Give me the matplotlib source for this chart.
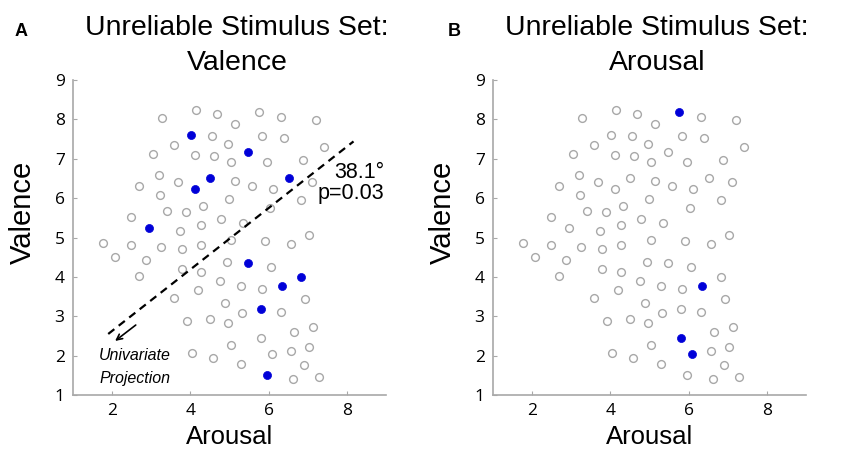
import numpy as np
import matplotlib
matplotlib.use("Agg")
import matplotlib.pyplot as plt

# stimulus positions (arousal, valence), same set in both panels
arousal = [3.28, 4.14, 4.69, 5.14, 5.76, 6.32, 7.21, 4.02, 4.56, 4.96,
           5.83, 6.40, 3.59, 3.05, 4.13, 4.60, 5.04, 5.48, 5.95, 6.87,
           7.41, 3.19, 3.69, 4.50, 5.14, 5.58, 6.53, 7.12, 2.68, 4.13,
           6.11, 3.22, 4.98, 6.84, 4.33, 3.39, 3.88, 6.04, 2.48, 4.79,
           5.35, 4.28, 2.94, 3.73, 7.02, 1.77, 2.48, 3.26, 3.79, 4.26,
           5.05, 5.90, 6.57, 2.08, 2.87, 4.93, 5.48, 6.07, 2.68, 3.79,
           4.27, 6.84, 4.76, 5.29, 6.33, 5.82, 4.19, 3.57, 6.92, 4.88,
           5.81, 5.33, 6.31, 3.91, 4.51, 4.96, 7.14, 6.66, 5.80, 5.05,
           7.03, 4.05, 4.58, 6.08, 6.57, 5.29, 6.90, 5.95, 6.62, 7.30]
valence = [8.03, 8.25, 8.14, 7.88, 8.19, 8.07, 7.98, 7.60, 7.58, 7.38,
           7.58, 7.52, 7.36, 7.12, 7.09, 7.06, 6.92, 7.18, 6.92, 6.98,
           7.31, 6.58, 6.42, 6.50, 6.44, 6.30, 6.52, 6.42, 6.30, 6.22,
           6.24, 6.09, 5.98, 5.96, 5.79, 5.67, 5.66, 5.74, 5.51, 5.48,
           5.37, 5.33, 5.23, 5.17, 5.06, 4.86, 4.81, 4.77, 4.72, 4.80,
           4.94, 4.90, 4.84, 4.51, 4.44, 4.38, 4.35, 4.24, 4.02, 4.19,
           4.12, 3.99, 3.90, 3.76, 3.78, 3.69, 3.66, 3.46, 3.45, 3.34,
           3.19, 3.07, 3.10, 2.87, 2.93, 2.82, 2.72, 2.59, 2.46, 2.27,
           2.21, 2.06, 1.95, 2.03, 2.11, 1.79, 1.77, 1.52, 1.41, 1.46]

# indices of the unreliable stimuli in each panel
unreliable_valence = [7, 17, 23, 26, 29, 42, 56, 61, 64, 70, 87]
unreliable_arousal = [4, 64, 78, 83]

# projection line and arrow (data coords)
proj_x = [1.90, 8.17]
proj_y = [2.55, 7.44]
arrow_start = (2.66, 2.82)
arrow_end = (2.02, 2.33)

panel_letters = ["A", "B"]
panel_titles = ["Unreliable Stimulus Set:\nValence", "Unreliable Stimulus Set:\nArousal"]
panel_filled = [unreliable_valence, unreliable_arousal]

plt.rcParams["font.family"] = ["Liberation Sans", "DejaVu Sans"]

fig = plt.figure(figsize=(8.5, 4.62), dpi=100)

gray = "#a8a8a8"
blue = "#0000d8"
ax_left = [73 / 850, 493 / 850]

x = np.array(arousal)
y = np.array(valence)

for i in range(2):
    ax = fig.add_axes([ax_left[i], 1 - 395 / 462, 313 / 850, 315 / 462])
    filled = np.zeros(len(x), bool)
    filled[panel_filled[i]] = True
    ax.plot(x[~filled], y[~filled], "o", ms=5.6, mfc="none", mec=gray, mew=1.0)
    ax.plot(x[filled], y[filled], "o", ms=5.8, mfc=blue, mec=blue, mew=0.5)
    ax.set_xlim(1, 9)
    ax.set_ylim(1, 9)
    ax.set_xticks([2, 4, 6, 8])
    ax.set_yticks(range(1, 10))
    for s in ["top", "right"]:
        ax.spines[s].set_visible(False)
    for s in ["left", "bottom"]:
        ax.spines[s].set_color(gray)
        ax.spines[s].set_linewidth(1.2)
    ax.tick_params(direction="in", length=3, color=gray, labelsize=12.5, pad=6)
    for lab in ax.get_xticklabels() + ax.get_yticklabels():
        lab.set_fontfamily(["Open Sans", "DejaVu Sans"])

    cx = ax_left[i] + 164 / 850
    fig.text(cx, 1 - 28 / 462, panel_titles[i].split("\n")[0], ha="center",
             va="center", fontsize=20.5)
    fig.text(cx, 1 - 63 / 462, panel_titles[i].split("\n")[1], ha="center",
             va="center", fontsize=20.5)
    fig.text((21 + 433 * i) / 850, 1 - 31 / 462, panel_letters[i], ha="center",
             va="center", fontsize=13, fontweight="bold")
    fig.text((23 + 420 * i) / 850, 1 - 212 / 462, "Valence", rotation=90,
             ha="center", va="center", fontsize=21)
    fig.text((230 + 420 * i) / 850, 1 - 437 / 462, "Arousal", ha="center",
             va="center", fontsize=18.5)

    if i == 0:
        ax.plot(proj_x, proj_y, color="black", lw=1.6, dashes=[3.5, 2.5])
        ax.annotate("", xy=arrow_end, xytext=arrow_start,
                    arrowprops=dict(arrowstyle="->", color="black", lw=1.2))
        ax.text(8.96, 6.65, "38.1°", ha="right", va="center", fontsize=15.5)
        ax.text(8.96, 6.12, "p=0.03", ha="right", va="center", fontsize=15.5)
        ax.text(1.67, 2.0, "Univariate", ha="left", va="center", fontsize=11.5,
                style="italic")
        ax.text(1.67, 1.41, "Projection", ha="left", va="center", fontsize=11.5,
                style="italic")

fig.savefig("out.png", dpi=100)
